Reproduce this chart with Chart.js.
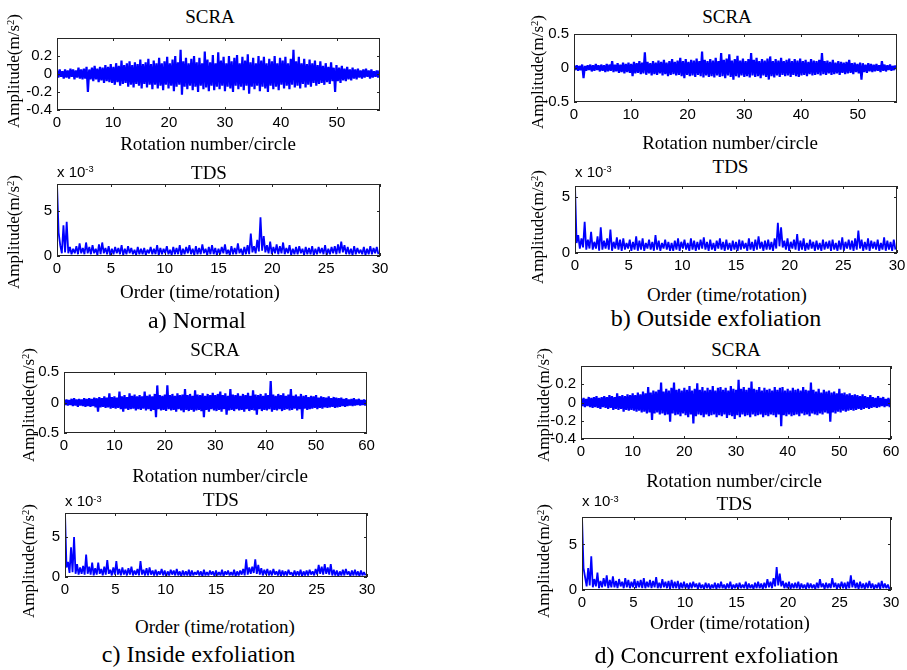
<!DOCTYPE html>
<html>
<head>
<meta charset="utf-8">
<script src="https://cdn.jsdelivr.net/npm/chart.js@4.4.1/dist/chart.umd.min.js"></script>
<style>
  body { margin: 0; background: #fff; width: 907px; height: 670px; position: relative; overflow: hidden; }
  canvas { position: absolute; }
  .t { position: absolute; white-space: nowrap; line-height: 1; color: #000; }
  .serif { font-family: "Liberation Serif", "Times New Roman", serif; }
  .sans { font-family: "Liberation Sans", Arial, sans-serif; }
  .t sup { font-size: 0.62em; vertical-align: baseline; position: relative; top: -0.5em; line-height: 0; }
</style>
</head>
<body>
<script>
// --- DADOS: SCRA (picos positivos e vales negativos, m/s^2) ---
const scraPicosA = [0.04,0.05,0.03,0.05,0.04,0.06,0.05,0.04,0.07,0.05,
  0.06,0.08,0.05,0.07,0.09,0.06,0.08,0.07,0.10,0.08,
  0.11,0.08,0.12,0.09,0.15,0.10,0.12,0.14,0.10,0.13,
  0.11,0.16,0.11,0.13,0.17,0.11,0.15,0.12,0.18,0.12,
  0.14,0.19,0.12,0.16,0.20,0.13,0.27,0.14,0.18,0.12,
  0.17,0.20,0.13,0.18,0.12,0.25,0.16,0.13,0.21,0.12,
  0.24,0.15,0.19,0.12,0.20,0.14,0.18,0.21,0.12,0.19,
  0.15,0.22,0.13,0.18,0.12,0.20,0.15,0.19,0.12,0.17,
  0.14,0.20,0.12,0.18,0.15,0.19,0.12,0.17,0.27,0.14,
  0.19,0.12,0.17,0.11,0.16,0.12,0.15,0.10,0.14,0.09,
  0.12,0.08,0.13,0.07,0.10,0.07,0.09,0.06,0.08,0.05,
  0.07,0.05,0.06,0.04,0.05,0.06,0.04,0.05,0.03,0.04,0.04];
const scraValesA = [-0.04,-0.03,-0.05,-0.04,-0.05,-0.03,-0.06,-0.04,-0.05,-0.06,
  -0.05,-0.20,-0.06,-0.08,-0.06,-0.09,-0.07,-0.10,-0.08,-0.09,
  -0.10,-0.12,-0.09,-0.13,-0.11,-0.10,-0.14,-0.12,-0.15,-0.11,
  -0.13,-0.16,-0.11,-0.15,-0.12,-0.17,-0.12,-0.16,-0.13,-0.18,
  -0.12,-0.16,-0.13,-0.19,-0.14,-0.12,-0.23,-0.14,-0.17,-0.13,
  -0.18,-0.14,-0.20,-0.13,-0.17,-0.15,-0.19,-0.13,-0.18,-0.14,
  -0.17,-0.13,-0.19,-0.14,-0.16,-0.20,-0.13,-0.17,-0.14,-0.18,
  -0.13,-0.22,-0.14,-0.17,-0.13,-0.19,-0.14,-0.16,-0.20,-0.13,
  -0.17,-0.14,-0.18,-0.12,-0.16,-0.13,-0.17,-0.12,-0.15,-0.13,
  -0.16,-0.11,-0.15,-0.12,-0.14,-0.10,-0.13,-0.11,-0.10,-0.12,
  -0.09,-0.11,-0.08,-0.20,-0.08,-0.10,-0.07,-0.08,-0.06,-0.07,
  -0.05,-0.06,-0.04,-0.05,-0.04,-0.03,-0.05,-0.04,-0.03,-0.04];

const scraPicosB = [0.03,0.04,0.03,0.05,0.03,0.04,0.05,0.04,0.06,0.04,
  0.05,0.04,0.06,0.05,0.10,0.05,0.07,0.05,0.08,0.06,
  0.08,0.06,0.09,0.07,0.10,0.08,0.23,0.09,0.07,0.10,
  0.08,0.11,0.09,0.12,0.08,0.10,0.13,0.09,0.11,0.15,
  0.10,0.13,0.09,0.12,0.11,0.14,0.10,0.24,0.12,0.10,
  0.13,0.11,0.15,0.10,0.22,0.12,0.14,0.20,0.11,0.13,
  0.18,0.11,0.14,0.10,0.13,0.22,0.12,0.15,0.10,0.13,
  0.11,0.14,0.17,0.10,0.13,0.11,0.15,0.10,0.12,0.14,
  0.10,0.13,0.11,0.14,0.10,0.12,0.09,0.13,0.11,0.10,
  0.12,0.22,0.10,0.11,0.09,0.12,0.08,0.10,0.09,0.08,
  0.09,0.12,0.07,0.08,0.06,0.08,0.07,0.05,0.07,0.06,
  0.05,0.06,0.04,0.10,0.05,0.04,0.05,0.03,0.04];
const scraValesB = [-0.03,-0.04,-0.03,-0.15,-0.04,-0.03,-0.05,-0.04,-0.03,-0.05,
  -0.04,-0.06,-0.05,-0.04,-0.06,-0.05,-0.07,-0.06,-0.08,-0.06,
  -0.07,-0.12,-0.08,-0.07,-0.09,-0.08,-0.10,-0.08,-0.11,-0.09,
  -0.10,-0.08,-0.11,-0.09,-0.12,-0.10,-0.09,-0.11,-0.10,-0.12,
  -0.15,-0.10,-0.12,-0.11,-0.13,-0.10,-0.12,-0.14,-0.11,-0.13,
  -0.12,-0.14,-0.11,-0.13,-0.12,-0.15,-0.11,-0.13,-0.17,-0.12,
  -0.14,-0.11,-0.13,-0.12,-0.14,-0.11,-0.13,-0.12,-0.15,-0.11,
  -0.13,-0.17,-0.12,-0.14,-0.11,-0.13,-0.10,-0.12,-0.11,-0.13,
  -0.10,-0.12,-0.13,-0.11,-0.10,-0.12,-0.09,-0.11,-0.10,-0.09,
  -0.11,-0.09,-0.10,-0.08,-0.10,-0.09,-0.08,-0.10,-0.07,-0.09,
  -0.08,-0.07,-0.09,-0.06,-0.08,-0.17,-0.06,-0.07,-0.05,-0.06,
  -0.05,-0.04,-0.06,-0.04,-0.05,-0.03,-0.04,-0.03];

const scraPicosC = [0.04,0.05,0.04,0.06,0.07,0.05,0.06,0.05,0.07,0.06,
  0.07,0.06,0.08,0.07,0.09,0.07,0.10,0.08,0.15,0.09,
  0.10,0.08,0.18,0.10,0.12,0.09,0.15,0.11,0.13,0.10,
  0.12,0.10,0.18,0.11,0.13,0.10,0.14,0.28,0.12,0.11,
  0.13,0.28,0.12,0.14,0.11,0.15,0.12,0.13,0.22,0.12,
  0.14,0.11,0.20,0.13,0.12,0.15,0.11,0.14,0.12,0.16,
  0.12,0.14,0.18,0.12,0.15,0.11,0.22,0.13,0.12,0.15,
  0.11,0.14,0.12,0.16,0.11,0.20,0.13,0.12,0.14,0.11,
  0.15,0.12,0.35,0.13,0.11,0.14,0.12,0.15,0.11,0.13,
  0.22,0.11,0.13,0.10,0.14,0.11,0.12,0.09,0.11,0.10,
  0.12,0.08,0.10,0.09,0.08,0.10,0.07,0.09,0.08,0.07,
  0.08,0.06,0.07,0.05,0.06,0.07,0.05,0.06,0.04,0.05,0.04];
const scraValesC = [-0.04,-0.05,-0.04,-0.06,-0.05,-0.07,-0.05,-0.06,-0.07,-0.06,
  -0.07,-0.06,-0.08,-0.15,-0.08,-0.07,-0.09,-0.08,-0.10,-0.09,
  -0.10,-0.09,-0.11,-0.15,-0.10,-0.12,-0.11,-0.10,-0.13,-0.11,
  -0.12,-0.10,-0.13,-0.11,-0.14,-0.12,-0.24,-0.11,-0.13,-0.12,
  -0.14,-0.11,-0.13,-0.12,-0.15,-0.11,-0.13,-0.16,-0.12,-0.14,
  -0.12,-0.15,-0.13,-0.12,-0.14,-0.24,-0.12,-0.15,-0.11,-0.13,
  -0.14,-0.12,-0.15,-0.11,-0.20,-0.13,-0.12,-0.14,-0.11,-0.13,
  -0.12,-0.15,-0.11,-0.14,-0.12,-0.13,-0.20,-0.11,-0.14,-0.12,
  -0.13,-0.11,-0.15,-0.12,-0.13,-0.11,-0.14,-0.12,-0.11,-0.13,
  -0.12,-0.10,-0.13,-0.11,-0.27,-0.10,-0.12,-0.11,-0.10,-0.09,
  -0.11,-0.09,-0.10,-0.08,-0.09,-0.08,-0.07,-0.09,-0.08,-0.07,
  -0.06,-0.07,-0.06,-0.05,-0.06,-0.05,-0.04,-0.05,-0.04,-0.05];

const scraPicosD = [0.04,0.05,0.04,0.06,0.05,0.06,0.07,0.05,0.06,0.07,
  0.06,0.08,0.07,0.06,0.10,0.07,0.08,0.07,0.09,0.08,
  0.10,0.08,0.11,0.09,0.12,0.10,0.17,0.11,0.13,0.12,
  0.14,0.22,0.12,0.15,0.13,0.16,0.22,0.14,0.15,0.13,
  0.16,0.14,0.18,0.13,0.15,0.21,0.14,0.17,0.13,0.16,
  0.14,0.18,0.13,0.16,0.17,0.14,0.16,0.13,0.18,0.15,
  0.14,0.25,0.15,0.17,0.14,0.16,0.23,0.15,0.14,0.17,
  0.13,0.16,0.14,0.15,0.13,0.17,0.14,0.16,0.17,0.13,
  0.15,0.13,0.16,0.14,0.15,0.13,0.17,0.14,0.13,0.22,
  0.14,0.12,0.15,0.11,0.14,0.12,0.13,0.11,0.12,0.10,
  0.15,0.10,0.11,0.09,0.10,0.08,0.09,0.08,0.07,0.09,
  0.07,0.06,0.08,0.06,0.05,0.07,0.05,0.06,0.04,0.05,0.04];
const scraValesD = [-0.04,-0.05,-0.04,-0.05,-0.06,-0.05,-0.06,-0.07,-0.05,-0.06,
  -0.07,-0.06,-0.08,-0.07,-0.08,-0.07,-0.10,-0.08,-0.09,-0.08,
  -0.09,-0.10,-0.09,-0.11,-0.10,-0.12,-0.11,-0.19,-0.12,-0.11,
  -0.13,-0.12,-0.14,-0.13,-0.21,-0.12,-0.14,-0.13,-0.15,-0.12,
  -0.14,-0.16,-0.13,-0.23,-0.15,-0.13,-0.14,-0.16,-0.13,-0.15,
  -0.14,-0.13,-0.16,-0.14,-0.15,-0.13,-0.17,-0.14,-0.15,-0.18,
  -0.14,-0.16,-0.13,-0.15,-0.14,-0.16,-0.13,-0.15,-0.14,-0.13,
  -0.16,-0.14,-0.15,-0.13,-0.14,-0.16,-0.13,-0.26,-0.14,-0.15,
  -0.13,-0.15,-0.14,-0.13,-0.15,-0.12,-0.14,-0.13,-0.15,-0.12,
  -0.13,-0.14,-0.12,-0.13,-0.11,-0.12,-0.21,-0.11,-0.12,-0.10,
  -0.11,-0.09,-0.10,-0.09,-0.08,-0.09,-0.08,-0.07,-0.08,-0.07,
  -0.06,-0.07,-0.06,-0.05,-0.06,-0.05,-0.04,-0.05,-0.04,-0.05];

// --- DADOS: TDS (picos e vales, x 10^-3 m/s^2) ---
const tdsPicosA = [8.0,1.2,3.4,3.8,1.0,0.8,1.1,1.4,0.9,1.5,
  1.0,1.2,0.8,1.3,1.5,0.9,1.1,0.8,1.0,0.9,
  1.2,0.8,1.1,0.9,0.7,1.0,0.8,0.9,0.7,1.0,
  0.8,1.2,0.9,0.8,1.1,0.7,1.0,0.9,1.2,0.8,
  1.0,1.2,0.8,1.1,0.9,1.3,0.8,1.0,1.2,0.9,
  0.8,1.0,1.3,0.7,1.1,0.9,1.4,0.8,1.0,1.2,
  2.5,1.1,1.8,4.3,2.2,1.2,1.6,1.0,1.3,1.1,
  1.5,0.9,1.2,0.8,1.0,1.1,0.8,1.0,0.9,1.1,
  0.8,1.0,0.9,1.2,0.8,1.0,1.1,1.3,1.6,1.2,
  1.0,0.8,1.1,0.9,0.7,1.0,0.8,1.1,0.9,1.0];
const tdsValesA = [2.6,0.3,0.4,0.3,0.2,0.3,0.2,0.3,0.2,0.3,
  0.2,0.3,0.1,0.2,0.3,0.2,0.1,0.2,0.3,0.2,
  0.1,0.2,0.3,0.2,0.1,0.2,0.2,0.1,0.3,0.2,
  0.2,0.1,0.2,0.3,0.2,0.1,0.2,0.2,0.1,0.2,
  0.3,0.2,0.1,0.2,0.2,0.3,0.1,0.2,0.2,0.1,
  0.2,0.3,0.2,0.1,0.2,0.2,0.3,0.1,0.2,0.2,
  0.4,0.3,0.5,0.6,0.4,0.3,0.2,0.3,0.2,0.3,
  0.2,0.3,0.1,0.2,0.2,0.3,0.1,0.2,0.2,0.1,
  0.2,0.3,0.2,0.1,0.2,0.3,0.2,0.3,0.4,0.2,
  0.2,0.1,0.2,0.3,0.2,0.1,0.2,0.2,0.3,0.2];

const tdsPicosB = [6.0,1.6,1.3,2.8,1.2,1.9,1.0,1.5,2.3,1.1,
  1.3,2.1,1.0,1.4,1.2,1.3,0.9,1.2,1.0,1.5,
  1.1,1.3,0.9,1.2,1.0,1.6,1.1,0.9,1.2,1.0,
  0.9,1.1,1.3,1.0,1.2,0.9,1.3,1.1,1.0,1.2,
  1.4,1.0,1.2,0.9,1.1,1.3,1.0,1.2,0.9,1.1,
  1.0,1.2,1.1,0.9,1.3,1.0,1.2,1.5,1.0,1.1,
  1.2,1.0,1.3,2.7,2.3,1.1,1.3,1.0,1.2,1.7,
  1.1,1.3,0.9,1.2,1.0,1.1,0.9,1.2,1.0,1.1,
  1.2,0.9,1.1,1.4,1.0,1.2,1.1,1.3,2.0,1.2,
  1.0,1.3,1.1,1.0,1.2,0.9,1.4,1.1,1.0,1.2];
const tdsValesB = [0.9,0.4,0.5,0.3,0.4,0.3,0.4,0.2,0.3,0.4,
  0.3,0.2,0.4,0.3,0.2,0.3,0.4,0.2,0.3,0.2,
  0.3,0.2,0.4,0.3,0.2,0.3,0.2,0.4,0.3,0.2,
  0.2,0.3,0.2,0.4,0.3,0.2,0.3,0.2,0.3,0.4,
  0.3,0.2,0.3,0.2,0.4,0.3,0.2,0.3,0.2,0.3,
  0.2,0.3,0.4,0.2,0.3,0.2,0.3,0.4,0.2,0.3,
  0.3,0.2,0.4,0.6,0.5,0.3,0.2,0.4,0.3,0.2,
  0.3,0.2,0.3,0.4,0.2,0.3,0.2,0.3,0.4,0.2,
  0.3,0.2,0.3,0.2,0.4,0.3,0.2,0.3,0.4,0.2,
  0.3,0.2,0.4,0.3,0.2,0.3,0.2,0.3,0.2,0.3];

const tdsPicosC = [8.0,1.9,3.7,5.0,1.6,1.2,1.4,2.8,1.3,1.8,
  1.1,1.8,1.0,1.3,2.1,0.9,1.2,2.0,1.0,1.2,
  0.9,1.1,1.3,0.8,1.0,2.0,0.9,1.1,1.2,0.8,
  0.9,0.7,1.0,0.8,0.7,0.9,0.8,1.0,0.7,0.8,
  0.7,0.9,0.8,0.6,0.8,0.7,0.9,0.6,0.8,0.7,
  0.8,0.6,0.9,0.7,0.8,0.6,0.9,0.7,0.8,1.0,
  2.2,1.2,1.3,2.2,1.5,1.1,0.9,1.0,0.8,1.0,
  0.7,0.9,0.8,0.7,0.9,0.6,0.8,0.7,0.9,0.7,
  0.8,0.9,0.7,1.0,1.5,1.3,1.6,1.2,1.6,0.9,
  0.8,0.7,0.9,1.0,0.7,0.8,0.9,0.7,0.8,0.6];
const tdsValesC = [1.2,0.5,0.6,0.4,0.3,0.4,0.3,0.4,0.3,0.2,
  0.3,0.4,0.2,0.3,0.4,0.2,0.3,0.3,0.2,0.3,
  0.2,0.3,0.2,0.3,0.2,0.3,0.2,0.2,0.3,0.2,
  0.2,0.3,0.2,0.1,0.2,0.3,0.2,0.2,0.1,0.2,
  0.2,0.1,0.2,0.3,0.2,0.1,0.2,0.2,0.3,0.1,
  0.2,0.2,0.1,0.3,0.2,0.2,0.1,0.2,0.3,0.2,
  0.3,0.4,0.5,0.4,0.3,0.2,0.3,0.2,0.2,0.3,
  0.2,0.1,0.2,0.2,0.3,0.1,0.2,0.2,0.1,0.2,
  0.2,0.3,0.2,0.3,0.4,0.3,0.4,0.3,0.2,0.2,
  0.1,0.2,0.2,0.3,0.1,0.2,0.2,0.1,0.2,0.2];

const tdsPicosD = [8.0,1.4,2.4,3.7,1.2,1.9,1.0,1.3,1.6,1.1,
  1.5,1.0,1.2,0.9,1.3,1.1,0.9,1.2,1.0,1.1,
  1.3,0.9,1.1,1.0,1.4,0.8,1.2,0.9,1.0,1.1,
  0.9,1.0,0.8,0.9,0.7,0.8,0.9,0.7,0.8,0.6,
  0.8,0.7,0.6,0.8,0.7,0.9,0.6,0.7,0.9,0.6,
  0.7,0.8,0.6,0.9,0.7,0.6,0.8,0.9,0.7,0.8,
  1.2,0.9,1.3,2.5,1.8,1.0,0.8,0.9,0.7,0.8,
  0.9,0.7,0.6,0.8,0.7,0.6,0.8,1.2,0.7,0.8,
  0.7,1.3,0.8,0.7,0.9,0.8,0.9,1.6,1.1,0.8,
  0.9,0.7,0.8,1.0,0.7,0.6,0.8,1.0,0.7,0.6];
const tdsValesD = [2.4,0.4,0.5,0.3,0.4,0.2,0.3,0.4,0.2,0.3,
  0.3,0.2,0.4,0.2,0.3,0.2,0.3,0.2,0.3,0.2,
  0.2,0.3,0.2,0.3,0.2,0.2,0.3,0.2,0.1,0.2,
  0.2,0.1,0.2,0.2,0.1,0.2,0.3,0.1,0.2,0.1,
  0.2,0.1,0.2,0.1,0.2,0.2,0.1,0.2,0.1,0.2,
  0.1,0.2,0.2,0.1,0.2,0.1,0.2,0.2,0.1,0.2,
  0.3,0.2,0.4,0.5,0.4,0.2,0.2,0.1,0.2,0.2,
  0.1,0.2,0.1,0.2,0.2,0.1,0.2,0.3,0.1,0.2,
  0.2,0.3,0.1,0.2,0.2,0.1,0.2,0.3,0.2,0.1,
  0.2,0.1,0.2,0.2,0.1,0.2,0.1,0.2,0.2,0.1];

// --- TICKS ---
const ticksRot57 = [0, 10, 20, 30, 40, 50];
const ticksRot60 = [0, 10, 20, 30, 40, 50, 60];
const ticksOrdem = [0, 5, 10, 15, 20, 25, 30];
const ticksY04 = [-0.4, -0.2, 0, 0.2];
const ticksY05 = [-0.5, 0, 0.5];
const ticksTds = [0, 5];

// monta a serie alternando pico / vale
function zigzag(picos, vales, dx) {
    const pts = [];
    for (let i = 0; i < picos.length; i++) {
        pts.push({ x: 2 * i * dx, y: picos[i] });
        if (i < vales.length) pts.push({ x: (2 * i + 1) * dx, y: vales[i] });
    }
    return pts;
}

// caixa estilo MATLAB com ticks para dentro
const caixaPlugin = {
    id: 'caixa',
    afterDraw(chart) {
        const { ctx, chartArea: a, scales } = chart;
        ctx.save();
        ctx.strokeStyle = '#262626';
        ctx.lineWidth = 1;
        ctx.strokeRect(a.left + 0.5, a.top + 0.5, a.right - a.left - 1, a.bottom - a.top - 1);
        ctx.beginPath();
        scales.x.ticks.forEach(t => {
            const px = Math.round(scales.x.getPixelForValue(t.value)) + 0.5;
            ctx.moveTo(px, a.bottom); ctx.lineTo(px, a.bottom - 3);
            ctx.moveTo(px, a.top); ctx.lineTo(px, a.top + 3);
        });
        scales.y.ticks.forEach(t => {
            const py = Math.round(scales.y.getPixelForValue(t.value)) + 0.5;
            ctx.moveTo(a.left, py); ctx.lineTo(a.left + 3, py);
            ctx.moveTo(a.right, py); ctx.lineTo(a.right - 3, py);
        });
        ctx.stroke();
        ctx.restore();
    }
};

const ML = 50, MR = 14, MT = 6, MB = 26;
const fonteTick = { family: '"Liberation Sans", Arial, sans-serif', size: 15 };

function criarGrafico(p) {
    const [l, t, r, b] = p.caixa;
    const cv = document.createElement('canvas');
    const w = r - l + ML + MR, h = b - t + MT + MB;
    cv.width = w; cv.height = h;
    cv.style.left = (l - ML) + 'px';
    cv.style.top = (t - MT) + 'px';
    cv.style.width = w + 'px';
    cv.style.height = h + 'px';
    document.body.appendChild(cv);

    new Chart(cv, {
        type: 'line',
        data: { datasets: [{
            data: zigzag(p.picos, p.vales, p.dx),
            borderColor: '#0000ff', borderWidth: p.lw, borderJoinStyle: 'bevel',
            pointRadius: 0, tension: 0, fill: false
        }] },
        options: {
            responsive: false, animation: false, events: [],
            layout: { padding: { left: 0, top: MT, right: MR, bottom: 0 } },
            plugins: { legend: { display: false }, tooltip: { enabled: false } },
            scales: {
                x: {
                    type: 'linear', min: 0, max: p.xMax,
                    grid: { display: false, drawTicks: false }, border: { display: false },
                    ticks: { color: '#000', font: fonteTick, padding: 4, maxRotation: 0, autoSkip: false, callback: v => String(v) },
                    afterBuildTicks: s => { s.ticks = p.xt.map(v => ({ value: v })); },
                    afterFit: s => { s.height = MB; s.paddingLeft = 0; s.paddingRight = 0; }
                },
                y: {
                    type: 'linear', min: p.y[0], max: p.y[1],
                    grid: { display: false, drawTicks: false }, border: { display: false },
                    ticks: { color: '#000', font: fonteTick, padding: 5, autoSkip: false, callback: v => String(v) },
                    afterBuildTicks: s => { s.ticks = p.yt.map(v => ({ value: v })); },
                    afterFit: s => { s.width = ML; s.paddingTop = 0; s.paddingBottom = 0; }
                }
            }
        },
        plugins: [caixaPlugin]
    });
}

const paineis = [
    { caixa: [57, 38, 380, 110], xMax: 57.7, y: [-0.4, 0.4], xt: ticksRot57, yt: ticksY04, picos: scraPicosA, vales: scraValesA, dx: 0.24, lw: 2.2 },
    { caixa: [57, 184, 380, 256], xMax: 30, y: [0, 8], xt: ticksOrdem, yt: ticksTds, picos: tdsPicosA, vales: tdsValesA, dx: 0.15, lw: 1.8 },
    { caixa: [574, 34, 897, 102], xMax: 56.9, y: [-0.5, 0.5], xt: ticksRot57, yt: ticksY05, picos: scraPicosB, vales: scraValesB, dx: 0.24, lw: 2.2 },
    { caixa: [575, 186, 897, 253], xMax: 30, y: [0, 6], xt: ticksOrdem, yt: ticksTds, picos: tdsPicosB, vales: tdsValesB, dx: 0.15, lw: 1.8 },
    { caixa: [64, 372, 367, 433], xMax: 60.1, y: [-0.5, 0.5], xt: ticksRot60, yt: ticksY05, picos: scraPicosC, vales: scraValesC, dx: 0.25, lw: 2.2 },
    { caixa: [65, 513, 367, 577], xMax: 30, y: [0, 8], xt: ticksOrdem, yt: ticksTds, picos: tdsPicosC, vales: tdsValesC, dx: 0.15, lw: 1.8 },
    { caixa: [581, 366, 891, 439], xMax: 60, y: [-0.4, 0.4], xt: ticksRot60, yt: ticksY04, picos: scraPicosD, vales: scraValesD, dx: 0.25, lw: 2.2 },
    { caixa: [582, 517, 891, 590], xMax: 30, y: [0, 8], xt: ticksOrdem, yt: ticksTds, picos: tdsPicosD, vales: tdsValesD, dx: 0.15, lw: 1.8 }
];
paineis.forEach(criarGrafico);

// --- TEXTOS ---
function texto(html, x, base, tam, fam, alinhar) {
    const d = document.createElement('div');
    d.className = 't ' + fam;
    d.innerHTML = html;
    d.style.fontSize = tam + 'px';
    d.style.left = x + 'px';
    d.style.top = (base - (fam === 'serif' ? 0.8375 : 0.8465) * tam) + 'px';
    if (alinhar !== 'esq') d.style.transform = 'translateX(-50%)';
    document.body.appendChild(d);
}

function rotuloY(cx, cy) {
    const d = document.createElement('div');
    d.className = 't serif';
    d.innerHTML = 'Amplitude(m/s<sup>2</sup>)';
    d.style.fontSize = '17px';
    d.style.left = (cx - 1.8) + 'px';
    d.style.top = cy + 'px';
    d.style.transform = 'translate(-50%,-50%) rotate(-90deg)';
    document.body.appendChild(d);
}

[['SCRA', 210, 22.5], ['TDS', 209, 179], ['SCRA', 727, 22.5], ['TDS', 730.5, 173],
 ['SCRA', 215, 356], ['TDS', 221, 506], ['SCRA', 736, 356], ['TDS', 734.5, 510]]
    .forEach(([s, x, b]) => texto(s, x, b, 19, 'serif'));

[['Rotation number/circle', 208, 150], ['Order (time/rotation)', 200, 298],
 ['Rotation number/circle', 730, 148.5], ['Order (time/rotation)', 727, 300.5],
 ['Rotation number/circle', 220, 481.5], ['Order (time/rotation)', 215, 632.5],
 ['Rotation number/circle', 734, 487], ['Order (time/rotation)', 730, 629]]
    .forEach(([s, x, b]) => texto(s, x, b, 19, 'serif'));

[['a) Normal', 197, 328], ['b) Outside exfoliation', 716, 326.5],
 ['c) Inside exfoliation', 198.5, 662.5], ['d) Concurrent exfoliation', 716.5, 663]]
    .forEach(([s, x, b]) => texto(s, x, b, 24, 'serif'));

[[57, 176.5], [575, 176.5], [65, 506], [582, 506]]
    .forEach(([x, b]) => texto('x 10<sup>-3</sup>', x, b, 15, 'sans', 'esq'));

[[15, 70.5], [15, 232], [538.5, 72], [538.5, 227],
 [30, 405], [30, 561], [545, 405], [545, 561]]
    .forEach(([x, y]) => rotuloY(x, y));
</script>
</body>
</html>
